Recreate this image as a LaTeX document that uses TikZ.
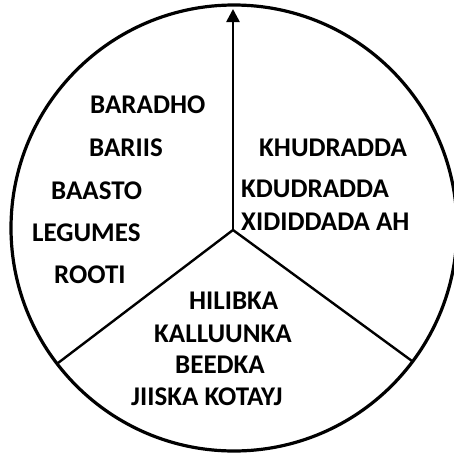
\documentclass[tikz,border=0pt]{standalone}
\usepackage{fontspec}
\setmainfont{Carlito}
\usepackage{tikz}
\usetikzlibrary{arrows.meta}

\begin{document}
\begin{tikzpicture}[x=1pt,y=-1pt,
  lbl/.style={font=\fontsize{27}{31}\selectfont\bfseries,anchor=base west,inner sep=0pt},
  rim/.style={draw=black,line width=3.2pt},
  spoke/.style={draw=black,line width=2.4pt},
  arr/.style={-{Triangle[length=13pt,width=13pt]},line width=2.6pt}
]
\useasboundingbox (0,0) rectangle (453,453);
\draw[rim] (234,228) circle [radius=223];
\coordinate (hub) at (233,230);
\coordinate (tip) at (233,9);
\coordinate (lend) at (58,363);
\coordinate (rend) at (412,361);
\draw[arr] (hub) -- (tip);
\draw[spoke] (hub) -- (lend);
\draw[spoke] (hub) -- (rend);
% left sector
\node[lbl] (baradho) at (90,113) {BARADHO};
\node[lbl] (bariis) at (89,156) {BARIIS};
\node[lbl] (baasto) at (51,199) {BAASTO};
\node[lbl] (legumes) at (32,241) {LEGUMES};
\node[lbl] (rooti) at (54,283) {ROOTI};
% right sector
\node[lbl] (khudradda) at (259,156) {KHUDRADDA};
\node[lbl] (kdudradda) at (241,197) {KDUDRADDA};
\node[lbl] (xididdada) at (241,230) {XIDIDDADA AH};
% bottom sector
\node[lbl] (hilibka) at (189,309) {HILIBKA};
\node[lbl] (kalluunka) at (154,342) {KALLUUNKA};
\node[lbl] (beedka) at (175,373) {BEEDKA};
\node[lbl] (jiiska) at (131,405) {JIISKA KOTAYJ};
\end{tikzpicture}
\end{document}
